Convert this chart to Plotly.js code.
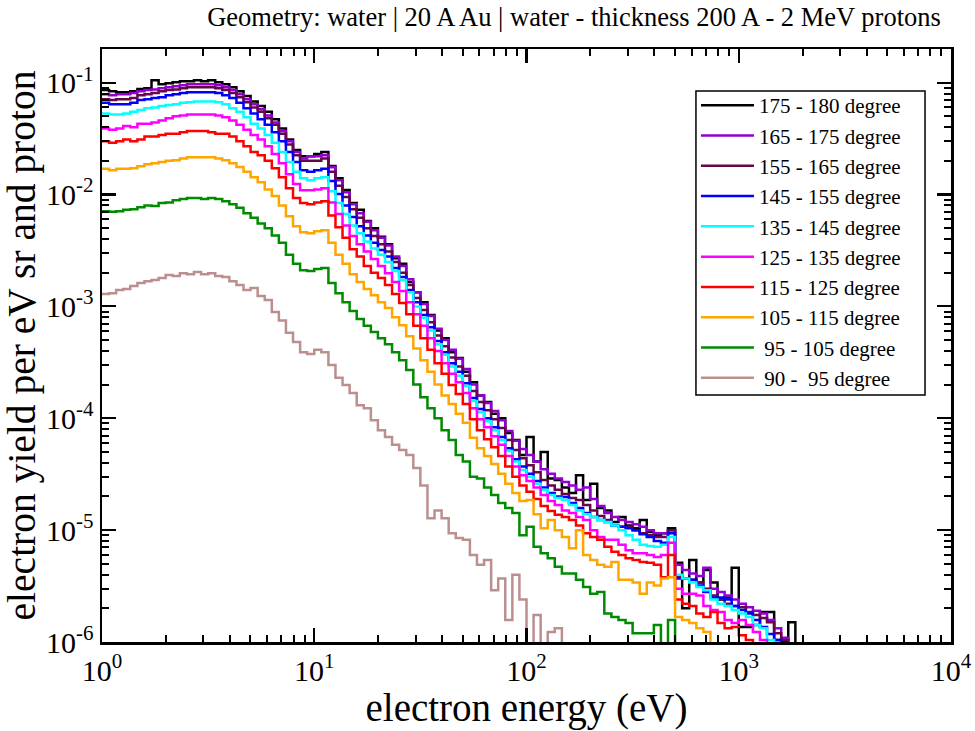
<!DOCTYPE html>
<html><head><meta charset="utf-8">
<script src="https://cdn.plot.ly/plotly-3.0.1.min.js"></script>
<style>html,body{margin:0;padding:0;background:#fff}</style>
</head><body><div id="chart" style="width:975px;height:731px"></div>
<script>
// Energy bin edges (eV), logarithmic binning, 30 bins per decade
const binEdges = [
 1, 1.080, 1.166, 1.259, 1.359, 1.468, 1.585, 1.711, 1.848, 1.995, 2.154, 2.326, 2.512, 2.712, 2.929, 3.162, 3.415, 3.687, 3.981, 4.299, 4.642, 5.012, 5.412, 5.843, 6.310, 6.813, 7.356, 7.943, 8.577, 9.261,
 10.00, 10.80, 11.66, 12.59, 13.59, 14.68, 15.85, 17.11, 18.48, 19.95, 21.54, 23.26, 25.12, 27.12, 29.29, 31.62, 34.15, 36.87, 39.81, 42.99, 46.42, 50.12, 54.12, 58.43, 63.10, 68.13, 73.56, 79.43, 85.77, 92.61,
 100.0, 108.0, 116.6, 125.9, 135.9, 146.8, 158.5, 171.1, 184.8, 199.5, 215.4, 232.6, 251.2, 271.2, 292.9, 316.2, 341.5, 368.7, 398.1, 429.9, 464.2, 501.2, 541.2, 584.3, 631.0, 681.3, 735.6, 794.3, 857.7, 926.1,
 1000, 1080, 1166, 1259, 1359, 1468, 1585, 1711, 1848
];

const seriesNames = ['175 - 180 degree','165 - 175 degree','155 - 165 degree','145 - 155 degree','135 - 145 degree',
  '125 - 135 degree','115 - 125 degree','105 - 115 degree',' 95 - 105 degree',' 90 -  95 degree'];

const yield175 = [
 8.6e-2,8.4e-2,8.2e-2,8.2e-2,8.4e-2,8.8e-2,8.9e-2,0.105,9.7e-2,9.9e-2,0.101,0.103,0.103,0.105,0.103,0.105,0.101,9.7e-2,9.1e-2,8.4e-2,7.6e-2,6.8e-2,6.2e-2,5.5e-2,4.7e-2,3.9e-2,3.1e-2,2.5e-2,2.2e-2,2.2e-2,2.3e-2,2.4e-2,
 1.8e-2,1.4e-2,1.1e-2,8.4e-3,7.3e-3,5.8e-3,5.0e-3,4.2e-3,3.6e-3,2.7e-3,2.4e-3,1.65e-3,1.34e-3,1.09e-3,8.4e-4,6.1e-4,5.2e-4,3.9e-4,3.45e-4,2.6e-4,2.1e-4,1.6e-4,1.4e-4,1.1e-4,1.0e-4,
 7.4e-5,6.4e-5,4.7e-5,6.8e-5,4.1e-5,5.0e-5,2.9e-5,2.8e-5,2.4e-5,2.15e-5,3.1e-5,1.86e-5,2.6e-5,1.58e-5,1.5e-5,1.18e-5,1.31e-5,1.1e-5,1.04e-5,1.23e-5,9.6e-6,9.0e-6,9.4e-6,1.04e-5,
 5.1e-6,2.0e-6,5.4e-6,3.4e-6,4.4e-6,3.4e-6,2.4e-6,2.5e-6,4.6e-6,1.36e-6,1.36e-6,1.42e-6,1.85e-6,1.85e-6,1.04e-6,1.02e-6,1.5e-6
];
const yield165 = [
 7.9e-2,7.7e-2,7.9e-2,7.9e-2,8.1e-2,8.4e-2,8.6e-2,8.7e-2,8.9e-2,9.1e-2,9.3e-2,9.5e-2,9.7e-2,9.7e-2,9.7e-2,9.7e-2,9.5e-2,9.1e-2,8.6e-2,7.9e-2,7.1e-2,6.4e-2,5.8e-2,5.1e-2,4.4e-2,3.7e-2,3.0e-2,2.4e-2,2.1e-2,2.2e-2,2.2e-2,2.25e-2,
 1.75e-2,1.34e-2,1.05e-2,8.2e-3,6.8e-3,5.7e-3,4.8e-3,4.1e-3,3.5e-3,2.8e-3,2.3e-3,1.75e-3,1.34e-3,1.05e-3,8.2e-4,6.3e-4,5.0e-4,4.1e-4,3.4e-4,2.75e-4,2.0e-4,1.6e-4,1.37e-4,1.16e-4,9.6e-5,
 7.7e-5,6.3e-5,5.3e-5,4.7e-5,4.1e-5,3.5e-5,3.2e-5,2.9e-5,2.7e-5,2.5e-5,2.3e-5,2.4e-5,1.9e-5,1.64e-5,1.42e-5,1.31e-5,1.23e-5,1.18e-5,1.13e-5,1.07e-5,1.0e-5,9.4e-6,9.4e-6,1.0e-5,
 4.9e-6,4.4e-6,4.1e-6,3.9e-6,4.6e-6,3.0e-6,2.8e-6,2.6e-6,2.4e-6,2.2e-6,2.05e-6,1.9e-6,1.8e-6,1.57e-6,1.33e-6,1.09e-6
];
const yield155 = [
 7.1e-2,7.0e-2,7.1e-2,7.1e-2,7.3e-2,7.7e-2,7.9e-2,8.1e-2,8.4e-2,8.6e-2,8.7e-2,8.9e-2,9.1e-2,9.1e-2,9.1e-2,9.1e-2,8.9e-2,8.6e-2,8.1e-2,7.4e-2,6.7e-2,6.0e-2,5.5e-2,4.8e-2,4.2e-2,3.5e-2,2.8e-2,2.25e-2,2.0e-2,2.0e-2,2.0e-2,2.1e-2,
 1.6e-2,1.2e-2,9.5e-3,7.4e-3,6.2e-3,5.0e-3,4.25e-3,3.6e-3,3.1e-3,2.5e-3,2.0e-3,1.55e-3,1.19e-3,9.3e-4,7.2e-4,5.5e-4,4.4e-4,3.5e-4,2.9e-4,2.4e-4,1.75e-4,1.4e-4,1.18e-4,9.8e-5,8.2e-5,6.4e-5,5.2e-5,4.4e-5,3.8e-5,3.3e-5,2.8e-5,2.5e-5,2.3e-5,
 2.1e-5,1.94e-5,1.86e-5,1.68e-5,1.5e-5,1.34e-5,1.23e-5,1.1e-5,1.07e-5,1.07e-5,1.0e-5,9.4e-6,9.0e-6,8.7e-6,8.7e-6,1.0e-5,
 3.8e-6,3.7e-6,3.6e-6,3.4e-6,3.0e-6,2.6e-6,2.4e-6,2.2e-6,2.1e-6,2.05e-6,1.85e-6,1.74e-6,1.64e-6,1.5e-6,1.2e-6,1.04e-6
];
const yield145 = [
 6.6e-2,6.4e-2,6.4e-2,6.4e-2,6.6e-2,7.0e-2,7.1e-2,7.3e-2,7.4e-2,7.7e-2,7.9e-2,8.1e-2,8.2e-2,8.2e-2,8.2e-2,8.2e-2,8.1e-2,7.7e-2,7.3e-2,6.6e-2,5.9e-2,5.3e-2,4.7e-2,4.2e-2,3.6e-2,3.0e-2,2.4e-2,1.95e-2,1.65e-2,1.6e-2,1.65e-2,1.7e-2,
 1.32e-2,1.01e-2,8.0e-3,6.3e-3,5.2e-3,4.3e-3,3.7e-3,3.2e-3,2.8e-3,2.2e-3,1.83e-3,1.4e-3,1.09e-3,8.4e-4,6.5e-4,4.9e-4,3.9e-4,3.1e-4,2.6e-4,2.06e-4,1.52e-4,1.21e-4,1.0e-4,8.3e-5,6.8e-5,5.4e-5,4.3e-5,3.7e-5,3.2e-5,2.75e-5,2.4e-5,2.15e-5,2.0e-5,
 1.98e-5,1.75e-5,1.58e-5,1.42e-5,1.31e-5,1.23e-5,1.18e-5,1.1e-5,1.07e-5,1.04e-5,1.0e-5,9.2e-6,8.7e-6,8.0e-6,7.7e-6,9.4e-6,
 3.7e-6,3.7e-6,3.6e-6,3.2e-6,2.8e-6,2.5e-6,2.5e-6,2.4e-6,2.1e-6,1.93e-6,1.8e-6,1.57e-6,1.36e-6,1.18e-6,1.04e-6
];
const yield135 = [
 5.3e-2,5.2e-2,5.2e-2,5.3e-2,5.5e-2,5.7e-2,5.9e-2,6.0e-2,6.2e-2,6.3e-2,6.4e-2,6.6e-2,6.7e-2,6.8e-2,6.8e-2,6.8e-2,6.7e-2,6.4e-2,5.9e-2,5.5e-2,4.9e-2,4.3e-2,3.9e-2,3.4e-2,2.9e-2,2.4e-2,1.95e-2,1.6e-2,1.4e-2,1.34e-2,1.4e-2,1.43e-2,
 1.07e-2,8.4e-3,6.7e-3,5.3e-3,4.5e-3,3.8e-3,3.3e-3,2.9e-3,2.5e-3,2.07e-3,1.72e-3,1.34e-3,1.0e-3,7.9e-4,6.1e-4,4.6e-4,3.7e-4,2.9e-4,2.4e-4,1.94e-4,1.43e-4,1.13e-4,9.4e-5,7.8e-5,6.4e-5,5.1e-5,4.1e-5,3.45e-5,3.0e-5,2.6e-5,2.3e-5,2.06e-5,1.94e-5,
 1.86e-5,1.68e-5,1.5e-5,1.39e-5,1.31e-5,1.23e-5,1.18e-5,1.1e-5,1.0e-5,9.0e-6,8.2e-6,7.4e-6,7.2e-6,7.1e-6,7.4e-6,8.7e-6,
 4.0e-6,3.7e-6,3.4e-6,3.1e-6,2.9e-6,2.4e-6,2.2e-6,2.1e-6,1.93e-6,1.8e-6,1.67e-6,1.42e-6,1.33e-6,1.04e-6
];
const yield125 = [
 3.9e-2,3.8e-2,3.9e-2,4.1e-2,4.0e-2,4.3e-2,4.3e-2,4.4e-2,4.6e-2,4.8e-2,5.0e-2,5.1e-2,5.2e-2,5.2e-2,5.2e-2,5.2e-2,5.1e-2,4.9e-2,4.6e-2,4.2e-2,3.8e-2,3.4e-2,3.1e-2,2.7e-2,2.3e-2,1.9e-2,1.52e-2,1.24e-2,1.09e-2,1.09e-2,1.11e-2,1.14e-2,
 8.5e-3,6.7e-3,5.3e-3,4.25e-3,3.6e-3,3.1e-3,2.65e-3,2.3e-3,1.98e-3,1.65e-3,1.37e-3,1.09e-3,8.5e-4,6.7e-4,5.2e-4,4.0e-4,3.1e-4,2.5e-4,2.1e-4,1.68e-4,1.23e-4,9.8e-5,8.3e-5,6.9e-5,5.8e-5,4.6e-5,3.7e-5,3.1e-5,2.75e-5,2.4e-5,2.06e-5,1.82e-5,1.68e-5,
 1.5e-5,1.42e-5,1.31e-5,1.23e-5,1.0e-5,8.7e-6,8.2e-6,8.2e-6,7.4e-6,6.6e-6,6.2e-6,6.2e-6,6.0e-6,5.75e-6,6.0e-6,7.7e-6,
 3.0e-6,2.7e-6,2.7e-6,2.6e-6,2.1e-6,1.93e-6,1.85e-6,1.57e-6,1.48e-6,1.57e-6,1.42e-6,1.23e-6,1.04e-6
];
const yield115 = [
 3.0e-2,2.9e-2,3.0e-2,3.1e-2,3.0e-2,3.1e-2,3.3e-2,3.3e-2,3.4e-2,3.5e-2,3.5e-2,3.6e-2,3.7e-2,3.7e-2,3.7e-2,3.6e-2,3.5e-2,3.5e-2,3.3e-2,3.0e-2,2.7e-2,2.4e-2,2.25e-2,2.0e-2,1.72e-2,1.43e-2,1.14e-2,9.3e-3,8.4e-3,8.2e-3,8.5e-3,8.7e-3,
 6.5e-3,5.1e-3,4.1e-3,3.25e-3,2.8e-3,2.3e-3,2.0e-3,1.79e-3,1.55e-3,1.29e-3,1.07e-3,8.5e-4,6.7e-4,5.2e-4,4.1e-4,3.1e-4,2.5e-4,1.98e-4,1.65e-4,1.34e-4,9.8e-5,7.8e-5,6.5e-5,5.5e-5,4.6e-5,3.7e-5,3.0e-5,2.5e-5,2.2e-5,1.9e-5,1.64e-5,1.48e-5,1.37e-5,
 1.31e-5,1.23e-5,1.1e-5,9.4e-6,8.7e-6,8.2e-6,7.1e-6,6.4e-6,6.0e-6,5.6e-6,5.4e-6,5.2e-6,5.1e-6,4.9e-6,3.8e-6,6.0e-6,
 2.4e-6,2.2e-6,2.1e-6,1.8e-6,1.67e-6,1.85e-6,1.48e-6,1.33e-6,1.36e-6,1.15e-6,1.04e-6
];
const yield105 = [
 1.7e-2,1.65e-2,1.7e-2,1.7e-2,1.72e-2,1.79e-2,1.87e-2,1.9e-2,1.95e-2,2.0e-2,2.03e-2,2.1e-2,2.15e-2,2.15e-2,2.15e-2,2.15e-2,2.1e-2,2.03e-2,1.9e-2,1.76e-2,1.6e-2,1.43e-2,1.29e-2,1.11e-2,9.7e-3,8.0e-3,6.4e-3,5.2e-3,4.6e-3,4.5e-3,4.7e-3,4.8e-3,
 3.7e-3,2.9e-3,2.4e-3,1.94e-3,1.65e-3,1.43e-3,1.26e-3,1.09e-3,9.7e-4,8.0e-4,6.8e-4,5.4e-4,4.2e-4,3.3e-4,2.6e-4,2.0e-4,1.6e-4,1.34e-4,1.1e-4,9.1e-5,6.7e-5,5.4e-5,4.6e-5,3.9e-5,3.2e-5,2.6e-5,2.15e-5,1.82e-5,1.86e-5,1.39e-5,1.04e-5,1.23e-5,1.0e-5,
 8.7e-6,6.9e-6,1.0e-5,6.0e-6,5.4e-6,4.9e-6,4.7e-6,5.2e-6,3.6e-6,3.6e-6,3.4e-6,2.7e-6,3.4e-6,3.2e-6,3.7e-6,3.8e-6,
 1.67e-6,1.57e-6,1.48e-6,1.33e-6,1.23e-6
];
const yield95 = [
 7.1e-3,7.0e-3,7.1e-3,7.3e-3,7.4e-3,7.7e-3,8.0e-3,7.9e-3,8.4e-3,8.5e-3,8.9e-3,9.1e-3,9.3e-3,9.3e-3,9.1e-3,9.3e-3,9.1e-3,8.7e-3,8.2e-3,7.6e-3,6.8e-3,6.2e-3,5.5e-3,5.0e-3,4.3e-3,3.7e-3,2.9e-3,2.4e-3,2.1e-3,2.07e-3,2.16e-3,2.2e-3,
 1.62e-3,1.31e-3,1.09e-3,9.1e-4,7.7e-4,6.7e-4,5.9e-4,5.2e-4,4.6e-4,3.9e-4,3.3e-4,2.7e-4,2.0e-4,1.54e-4,1.23e-4,1.0e-4,7.8e-5,6.4e-5,4.7e-5,4.1e-5,3.0e-5,2.9e-5,2.4e-5,2.06e-5,1.75e-5,1.58e-5,1.42e-5,9.0e-6,1.07e-5,7.1e-6,6.2e-6,5.6e-6,4.7e-6,
 4.1e-6,4.1e-6,3.6e-6,3.1e-6,2.7e-6,2.8e-6,1.8e-6,1.67e-6,1.57e-6,1.48e-6,1.2e-6,1.2e-6,1.2e-6,1.42e-6,9.4e-7,1.57e-6
];
const yield90 = [
 1.29e-3,1.31e-3,1.4e-3,1.43e-3,1.52e-3,1.62e-3,1.68e-3,1.72e-3,1.79e-3,1.91e-3,1.87e-3,1.98e-3,1.94e-3,2.03e-3,1.94e-3,1.98e-3,1.87e-3,1.83e-3,1.68e-3,1.55e-3,1.4e-3,1.46e-3,1.24e-3,1.14e-3,8.9e-4,7.5e-4,5.8e-4,4.8e-4,3.9e-4,3.75e-4,4.1e-4,3.9e-4,
 3.0e-4,2.3e-4,1.98e-4,1.68e-4,1.31e-4,1.23e-4,9.6e-5,7.8e-5,6.8e-5,5.8e-5,5.2e-5,4.7e-5,3.6e-5,2.5e-5,1.28e-5,1.5e-5,1.28e-5,9.4e-6,8.5e-6,8.2e-6,6.0e-6,4.9e-6,5.4e-6,2.9e-6,3.7e-6,1.57e-6,4.0e-6,2.4e-6,9.4e-7,1.74e-6,8.8e-7,1.23e-6,1.33e-6
];

const seriesValues = [yield175, yield165, yield155, yield145, yield135, yield125, yield115, yield105, yield95, yield90];
const seriesColors = ['#000000','#9400D3','#670748','#0000FF','#00FFFF','#FF00FF','#FF0000','#FFA500','#008B00','#BC8F8F'];

const xTickVals = [1, 10, 100, 1000, 10000];
const xTickText = ['10<sup>0</sup>','10<sup>1</sup>','10<sup>2</sup>','10<sup>3</sup>','10<sup>4</sup>'];
const yTickVals = [1e-6, 1e-5, 1e-4, 1e-3, 1e-2, 1e-1];
const yTickText = ['10<sup>-6</sup>','10<sup>-5</sup>','10<sup>-4</sup>','10<sup>-3</sup>','10<sup>-2</sup>','10<sup>-1</sup>'];

const FLOOR = 1e-9; // below the axis: closes each histogram at its last bin
const SERIF = '"Liberation Serif", "Times New Roman", Times, serif';

function minorTicks(lo, hi) {
  const out = [];
  for (let e = lo; e < hi; e++) for (let m = 2; m <= 9; m++) out.push(m * Math.pow(10, e));
  return out;
}

const traces = seriesValues.map((vals, i) => ({
  type: 'scatter', mode: 'lines',
  x: binEdges.slice(0, vals.length + 1),
  y: vals.concat([FLOOR]),
  name: seriesNames[i],
  line: {shape: 'hv', color: seriesColors[i], width: 2.5},
  hoverinfo: 'skip'
}));

const axisCommon = {
  type: 'log', showgrid: false, zeroline: false,
  showline: true, linecolor: '#000', linewidth: 2.5, mirror: 'ticks',
  ticks: 'inside', ticklen: 14, tickwidth: 2.2, tickcolor: '#000',
  tickmode: 'array',
  tickfont: {family: SERIF, size: 30, color: '#000'}
};

const layout = {
  width: 975, height: 731,
  margin: {l: 102, r: 24, t: 49, b: 89},
  paper_bgcolor: '#fff', plot_bgcolor: '#fff',
  font: {family: SERIF, color: '#000'},
  showlegend: true,
  title: {text: 'Geometry: water | 20 A Au | water - thickness 200 A - 2 MeV protons',
    font: {family: SERIF, size: 26.5, color: '#000'},
    x: 0.556, xref: 'paper', xanchor: 'center', y: 0.977, yref: 'container', yanchor: 'middle'},
  xaxis: Object.assign({}, axisCommon, {
    range: [0, 4], tickvals: xTickVals, ticktext: xTickText,
    minor: {tickmode: 'array', tickvals: minorTicks(0, 4), ticks: 'inside', ticklen: 7, tickwidth: 2, tickcolor: '#000', showgrid: false},
    title: {text: 'electron energy (eV)', font: {family: SERIF, size: 39, color: '#000'}, standoff: 8}
  }),
  yaxis: Object.assign({}, axisCommon, {
    range: [-6, Math.log10(0.2)], tickvals: yTickVals, ticktext: yTickText,
    minor: {tickmode: 'array', tickvals: minorTicks(-6, 0).filter(v => v <= 0.2), ticks: 'inside', ticklen: 7, tickwidth: 2, tickcolor: '#000', showgrid: false},
    title: {text: 'electron yield per eV sr and proton', font: {family: SERIF, size: 39.5, color: '#000'}, standoff: 4}
  }),
  // frame of the legend box
  shapes: [{type: 'rect', xref: 'paper', yref: 'paper', x0: 0.6996, x1: 0.9694, y0: 0.4165, y1: 0.9292,
    line: {color: '#000', width: 1.5}, fillcolor: '#fff', layer: 'below'}],
  legend: {
    x: 0.6996, y: 0.9393, xanchor: 'left', yanchor: 'top',
    bgcolor: 'rgba(0,0,0,0)', borderwidth: 0,
    font: {family: SERIF, size: 21, color: '#000'},
    itemwidth: 53,
    traceorder: 'normal'
  }
};

Plotly.newPlot('chart', traces, layout, {staticPlot: true, displayModeBar: false});
</script>
</body></html>
